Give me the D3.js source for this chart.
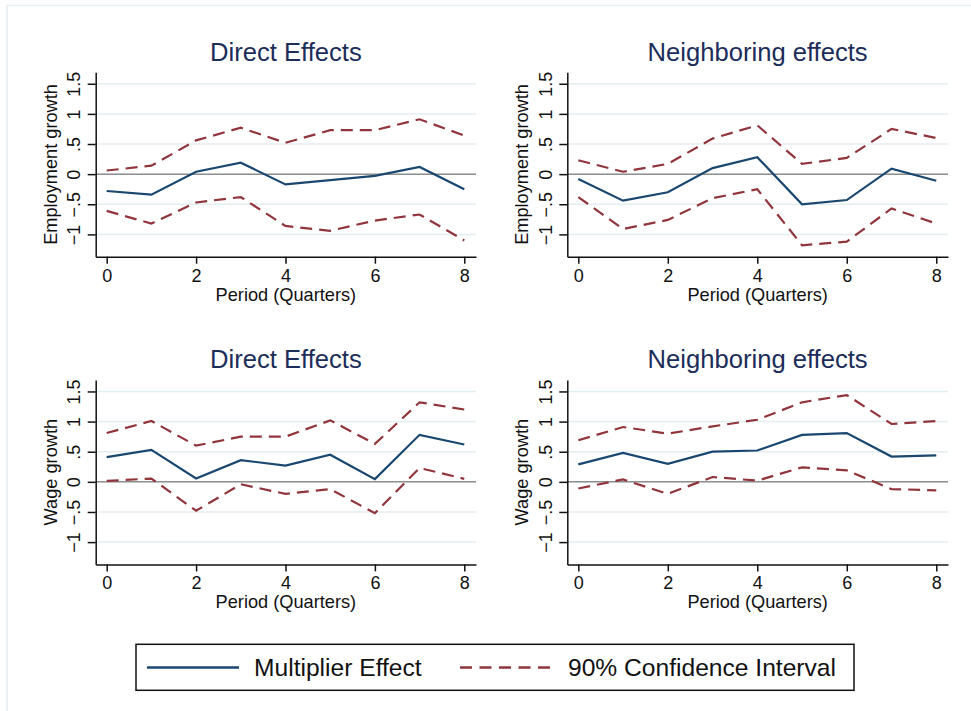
<!DOCTYPE html>
<html>
<head>
<meta charset="utf-8" />
<script src="https://cdn.jsdelivr.net/npm/d3@7"></script>
<title>multiplier effects</title>
<style>
body { margin: 0; background: #fff; }
text { font-family: "Liberation Sans", Arial, Helvetica, sans-serif; }
</style>
</head>
<body>
<script>
var periods = [0, 1, 2, 3, 4, 5, 6, 7, 8];
var xTicks = [0, 2, 4, 6, 8];
var yTicks = [-1, -0.5, 0, 0.5, 1, 1.5];
var yTickLabels = ["\u22121", "\u2212.5", "0", ".5", "1", "1.5"];
var titles = ["Direct Effects", "Neighboring effects", "Direct Effects", "Neighboring effects"];
var yTitles = ["Employment growth", "Employment growth", "Wage growth", "Wage growth"];
var xTitle = "Period (Quarters)";
var legendLabels = ["Multiplier Effect", "90% Confidence Interval"];

// employment, direct
var empDirect   = [-0.28, -0.34, 0.04, 0.19, -0.17, -0.10, -0.03, 0.12, -0.25];
var empDirectHi = [0.06, 0.14, 0.56, 0.77, 0.52, 0.73, 0.73, 0.91, 0.64];
var empDirectLo = [-0.61, -0.82, -0.47, -0.38, -0.86, -0.94, -0.77, -0.67, -1.10];
// employment, neighboring
var empNeigh    = [-0.08, -0.44, -0.30, 0.10, 0.28, -0.50, -0.43, 0.09, -0.11];
var empNeighHi  = [0.23, 0.04, 0.17, 0.59, 0.81, 0.17, 0.27, 0.75, 0.60];
var empNeighLo  = [-0.38, -0.91, -0.76, -0.40, -0.25, -1.18, -1.12, -0.57, -0.82];
// wage, direct
var wageDirect   = [0.41, 0.53, 0.055, 0.36, 0.27, 0.45, 0.045, 0.78, 0.62];
var wageDirectHi = [0.81, 1.01, 0.60, 0.75, 0.75, 1.02, 0.63, 1.32, 1.20];
var wageDirectLo = [0.015, 0.055, -0.48, -0.04, -0.20, -0.12, -0.52, 0.23, 0.05];
// wage, neighboring
var wageNeigh   = [0.29, 0.48, 0.30, 0.50, 0.52, 0.78, 0.81, 0.42, 0.44];
var wageNeighHi = [0.69, 0.91, 0.80, 0.92, 1.03, 1.32, 1.44, 0.96, 1.01];
var wageNeighLo = [-0.11, 0.04, -0.20, 0.08, 0.02, 0.24, 0.19, -0.12, -0.14];

var est = [empDirect, empNeigh, wageDirect, wageNeigh];
var hi = [empDirectHi, empNeighHi, wageDirectHi, wageNeighHi];
var lo = [empDirectLo, empNeighLo, wageDirectLo, wageNeighLo];

var w = 971, h = 711;
var blue = "#1a476f", red = "#90353b", dash = "12,7";
var colLeft = [95.7, 567.3], colRight = [476, 948];
var rowTop = [72.3, 380], plotH = 184.4;

var svg = d3.select("body").append("svg")
	.attr("width", w)
	.attr("height", h);

svg.append("rect")
	.attr("x", 7).attr("y", 5.5)
	.attr("width", w).attr("height", h)
	.attr("fill", "none")
	.attr("stroke", "#e6eef1")
	.attr("stroke-width", 1.5);

est.forEach(function(series, i) {
	var c = i % 2, r = Math.floor(i / 2);
	var x = d3.scaleLinear().domain([-0.246, 8.262]).range([colLeft[c], colRight[c]]);
	var y = d3.scaleLinear().domain([-1.37, 1.69]).range([rowTop[r] + plotH, rowTop[r]]);
	var g = svg.append("g");
	var cx = (colLeft[c] + colRight[c]) / 2;

	g.selectAll(".grid").data(yTicks).enter().append("line")
		.attr("x1", colLeft[c]).attr("x2", colRight[c])
		.attr("y1", function(d) { return y(d); })
		.attr("y2", function(d) { return y(d); })
		.attr("stroke", "#e4edf0")
		.attr("stroke-width", 1.5);

	g.append("line")
		.attr("x1", colLeft[c]).attr("x2", colRight[c])
		.attr("y1", y(0)).attr("y2", y(0))
		.attr("stroke", "#8f8f8f")
		.attr("stroke-width", 1.5);

	var ya = g.append("g")
		.attr("transform", "translate(" + colLeft[c] + ",0)")
		.call(d3.axisLeft(y).tickValues(yTicks).tickSize(8).tickSizeOuter(0)
			.tickFormat(function(d, j) { return yTickLabels[j]; }));
	ya.selectAll("text")
		.attr("transform", "rotate(-90)")
		.attr("x", 0).attr("y", -15.7).attr("dy", null)
		.attr("text-anchor", "middle");

	var xa = g.append("g")
		.attr("transform", "translate(0," + (rowTop[r] + plotH) + ")")
		.call(d3.axisBottom(x).tickValues(xTicks).tickSize(7).tickSizeOuter(0));
	xa.selectAll("text").attr("y", 25).attr("dy", null);

	[ya, xa].forEach(function(a) {
		a.attr("font-size", 18).attr("font-family", null).attr("color", "#111");
		a.selectAll("path, line").attr("stroke-width", 1.5);
	});

	g.append("text")
		.attr("x", cx).attr("y", rowTop[r] - 11.6)
		.attr("text-anchor", "middle")
		.attr("font-size", 25.6)
		.attr("fill", "#1c2d5a")
		.text(titles[i]);

	g.append("text")
		.attr("x", cx).attr("y", rowTop[r] + plotH + 44)
		.attr("text-anchor", "middle")
		.attr("font-size", 18.2)
		.attr("fill", "#111")
		.text(xTitle);

	g.append("text")
		.attr("transform", "translate(" + (colLeft[c] - 39) + "," + (rowTop[r] + plotH / 2) + ") rotate(-90)")
		.attr("text-anchor", "middle")
		.attr("font-size", 18.2)
		.attr("fill", "#111")
		.text(yTitles[i]);

	var line = d3.line()
		.x(function(d, j) { return x(periods[j]); })
		.y(function(d) { return y(d); });

	[hi[i], lo[i]].forEach(function(s) {
		g.append("path")
			.attr("d", line(s))
			.attr("fill", "none")
			.attr("stroke", red)
			.attr("stroke-width", 2.2)
			.attr("stroke-dasharray", dash);
	});
	g.append("path")
		.attr("d", line(series))
		.attr("fill", "none")
		.attr("stroke", blue)
		.attr("stroke-width", 2.2);
});

// legend
var lg = svg.append("g");
lg.append("rect")
	.attr("x", 136).attr("y", 644.3)
	.attr("width", 718).attr("height", 46)
	.attr("fill", "#fff")
	.attr("stroke", "#111")
	.attr("stroke-width", 1.5);
lg.append("line")
	.attr("x1", 147).attr("x2", 239).attr("y1", 667.5).attr("y2", 667.5)
	.attr("stroke", blue).attr("stroke-width", 2.4);
lg.append("line")
	.attr("x1", 460).attr("x2", 552).attr("y1", 667.5).attr("y2", 667.5)
	.attr("stroke", red).attr("stroke-width", 2.4)
	.attr("stroke-dasharray", "12,7.5");
lg.selectAll(".lab").data(legendLabels).enter().append("text")
	.attr("x", function(d, j) { return j == 0 ? 254 : 568; })
	.attr("y", 676)
	.attr("font-size", 24.6)
	.attr("fill", "#111")
	.text(function(d) { return d; });
</script>
</body>
</html>
